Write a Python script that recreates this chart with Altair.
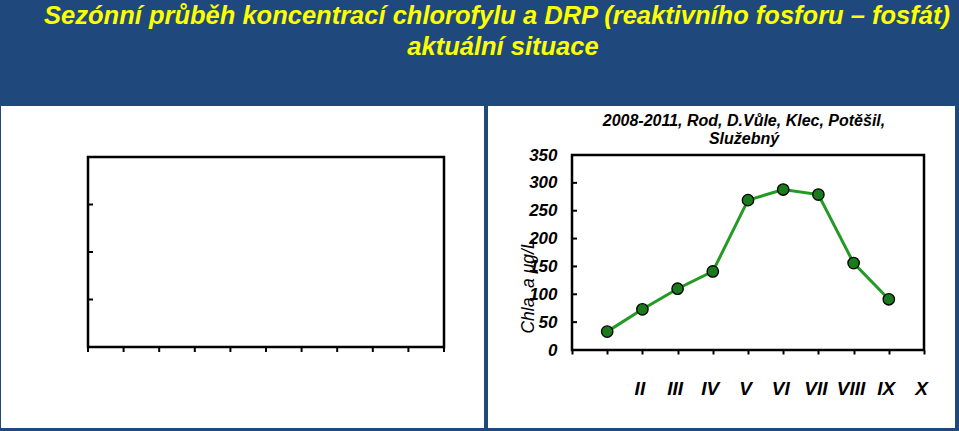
import altair as alt
import pandas as pd

# ---------------- data ----------------
month_pos = [1, 2, 3, 4, 5, 6, 7, 8, 9]
chla_values = [33, 73, 110, 141, 269, 288, 279, 156, 91]

x_tick_values = [0, 1, 2, 3, 4, 5, 6, 7, 8, 9, 10]
x_tick_labels = ["", "", "II", "III", "IV", "V", "VI", "VII", "VIII", "IX", "X"]
y_tick_values = [0, 50, 100, 150, 200, 250, 300, 350]
x_domain = [0, 10]
y_domain = [0, 350]

left_x_ticks = [0, 1, 2, 3, 4, 5, 6, 7, 8, 9, 10]
left_y_ticks = [1, 2, 3]
left_x_domain = [0, 10]
left_y_domain = [0, 4]

title_lines = ["Sezónní průběh koncentrací chlorofylu a DRP (reaktivního fosforu – fosfát)",
               "aktuální situace"]
subtitle_lines = ["2008-2011, Rod, D.Vůle, Klec, Potěšil,", "Služebný"]
y_title = "Chla_a μg/L"

# ---------------- styles ----------------
BG = "#1F497D"
FONT = "Liberation Sans"
LINE_GREEN = "#239A23"
DOT_GREEN = "#1B7A1B"

one = pd.DataFrame({"d": [0]})

# background panels
panel_left = alt.Chart(one).mark_rect(color="white").encode(
    x=alt.value(1), x2=alt.value(484), y=alt.value(106), y2=alt.value(428))
panel_right = alt.Chart(one).mark_rect(color="white").encode(
    x=alt.value(488), x2=alt.value(955), y=alt.value(106), y2=alt.value(428))

# main title
title1 = alt.Chart(one).mark_text(
    font=FONT, fontSize=25.5, fontStyle="italic", fontWeight="bold", color="#FFFF00",
    align="center", baseline="alphabetic").encode(
    x=alt.value(497), y=alt.value(24), text=alt.value(title_lines[0]))
title2 = alt.Chart(one).mark_text(
    font=FONT, fontSize=25.5, fontStyle="italic", fontWeight="bold", color="#FFFF00",
    align="center", baseline="alphabetic").encode(
    x=alt.value(503), y=alt.value(55), text=alt.value(title_lines[1]))

# subtitle for right chart
subtitle = alt.Chart(one).mark_text(
    font=FONT, fontSize=16, fontStyle="italic", fontWeight="bold", color="black",
    align="center", baseline="alphabetic", lineHeight=18).encode(
    x=alt.value(744), y=alt.value(126), text=alt.value(subtitle_lines))

# ---------------- left empty chart ----------------
def lxs():
    return alt.Scale(domain=left_x_domain, range=[88, 444], nice=False, zero=False)

def lys():
    return alt.Scale(domain=left_y_domain, range=[347, 157], nice=False, zero=False)

left_frame = alt.Chart(pd.DataFrame({"x0": [left_x_domain[0]], "x1": [left_x_domain[1]],
                                     "y0": [left_y_domain[0]], "y1": [left_y_domain[1]]})
                       ).mark_rect(fillOpacity=0, stroke="black", strokeWidth=2.5).encode(
    x=alt.X("x0:Q", scale=lxs(), axis=None), x2="x1:Q",
    y=alt.Y("y0:Q", scale=lys(), axis=None), y2="y1:Q")
left_xt = alt.Chart(pd.DataFrame({"lx": left_x_ticks})).mark_rule(color="black", strokeWidth=2).encode(
    x=alt.X("lx:Q", scale=lxs(), axis=None), y=alt.value(347), y2=alt.value(352))
left_yt = alt.Chart(pd.DataFrame({"ly": left_y_ticks})).mark_rule(color="black", strokeWidth=2).encode(
    y=alt.Y("ly:Q", scale=lys(), axis=None), x=alt.value(88), x2=alt.value(93))

# ---------------- right chart ----------------
def xs():
    return alt.Scale(domain=x_domain, range=[572, 924], nice=False, zero=False)

def ys():
    return alt.Scale(domain=y_domain, range=[350, 155], nice=False, zero=False)

label_expr = "[" + ",".join("'" + l + "'" for l in x_tick_labels) + "][datum.value]"

x_axis = alt.Axis(orient="bottom", offset=-81, values=x_tick_values, domain=False,
                  ticks=True, tickSize=4, tickWidth=2, tickColor="black",
                  labelExpr=label_expr, labelFont=FONT, labelFontSize=19,
                  labelFontStyle="italic", labelFontWeight="bold", labelColor="black",
                  labelPadding=25, labelOffset=-3, labelFlush=False, labelOverlap=False,
                  grid=False, title=None, zindex=2)
y_axis = alt.Axis(orient="left", offset=-572, values=y_tick_values, domain=False,
                  ticks=False, labelFont=FONT, labelFontSize=17, labelFontStyle="italic",
                  labelFontWeight="bold", labelColor="black", labelPadding=15,
                  labelFlush=False, labelOverlap=False, grid=False,
                  title=y_title, titleFont=FONT, titleFontSize=17.5, titleFontStyle="italic",
                  titleFontWeight="normal", titleColor="black", titleX=-35, titleY=286,
                  zindex=2)

df = pd.DataFrame({"pos": month_pos, "chla": chla_values})

frame = alt.Chart(pd.DataFrame({"x0": [x_domain[0]], "x1": [x_domain[1]],
                                "y0": [y_domain[0]], "y1": [y_domain[1]]})
                  ).mark_rect(fillOpacity=0, stroke="black", strokeWidth=2.5).encode(
    x=alt.X("x0:Q", scale=xs(), axis=None), x2="x1:Q",
    y=alt.Y("y0:Q", scale=ys(), axis=None), y2="y1:Q")
yticks = alt.Chart(pd.DataFrame({"yt": y_tick_values})).mark_rule(color="black", strokeWidth=2).encode(
    y=alt.Y("yt:Q", scale=ys(), axis=None), x=alt.value(572), x2=alt.value(577))
line = alt.Chart(df).mark_line(color=LINE_GREEN, strokeWidth=3).encode(
    x=alt.X("pos:Q", scale=xs(), axis=x_axis),
    y=alt.Y("chla:Q", scale=ys(), axis=y_axis))
dots = alt.Chart(df).mark_circle(size=130, color=DOT_GREEN, opacity=1,
                                 stroke="black", strokeWidth=1.3).encode(
    x=alt.X("pos:Q", scale=xs(), axis=None),
    y=alt.Y("chla:Q", scale=ys(), axis=None))

chart = alt.layer(
    panel_left, panel_right, title1, title2, subtitle,
    left_frame, left_xt, left_yt,
    frame, yticks, line, dots
).resolve_scale(x="independent", y="independent").properties(
    width=959, height=431, background=BG, padding=0,
    autosize=alt.AutoSizeParams(type="none")
).configure_view(stroke=None)

chart.save("out.html", embed_options={"renderer": "svg", "actions": False})
